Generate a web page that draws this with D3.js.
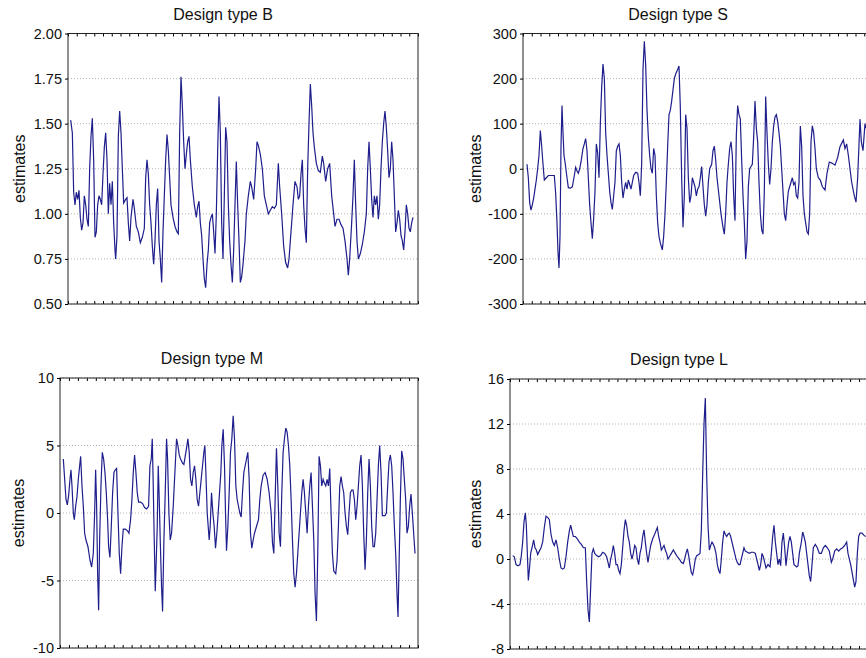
<!DOCTYPE html>
<html>
<head>
<meta charset="utf-8">
<script src="https://cdn.jsdelivr.net/npm/d3@7"></script>
<style>
  body { margin: 0; background: #fff; }
  text { font-family: "Liberation Sans", Arial, sans-serif; }
</style>
</head>
<body>
<div id="chart"></div>
<script>
var tB = [8,13,17,21,25,29,33,37,41,45,49,53,57,61,65,69,73,77,81,85,89,93,97,101,105,109,113,117,121,125,129,133,137,141,143,147,151,155,159,163,167,173,177,181,185,189,195,199,205,211,217,223,229,233,237,241,245,249,253,257,261,265,269,273,277,281,285,289,293,297,301,305,309,315,321,327,331,335,339,343,347,351,355,359,363,367,373,379,385,389,393,397,401,405,409,413,417,421,425,429,433,437,441,445,449,453,457,461,465,469,473,477,481,485,489,493,497,501,505,509,513,517,521,525,531,535,541,547,551,557,563,567,571,577,583,589,595,601,607,613,619,625,631,635,641,647,653,659,663,669,675,681,687,691,695,699,703,707,711,715,719,723,727,731,735,739,745,751,757,763,767,773,779,785,791,797,801,807,813,819,825,831,837,841,845,851,855,859,863,867,871,877,883,889,895,899,903,907,911,915,919,923,927,931,935,939,943,947,951,955,959,963,967,971,975,979,983,987,991,995,999,1003,1007,1011,1015,1019,1023,1027,1031,1035];
var estB = [1.52,1.45,1.12,1.05,1.12,1.08,1.13,0.98,0.91,0.95,1.10,1.05,0.97,0.93,1.25,1.43,1.53,1.30,0.87,0.90,1.05,1.10,1.08,1.05,1.22,1.37,1.45,1.30,1.00,1.17,1.05,1.18,0.95,0.80,0.75,0.88,1.43,1.57,1.45,1.25,1.06,1.08,1.09,0.95,0.85,0.98,1.08,1.03,0.93,0.90,0.84,0.87,0.92,1.20,1.30,1.22,1.05,0.95,0.82,0.72,0.85,1.05,1.14,0.85,0.75,0.62,0.90,1.10,1.30,1.44,1.35,1.20,1.05,0.98,0.93,0.90,0.89,1.45,1.76,1.60,1.40,1.25,1.33,1.40,1.43,1.30,1.15,1.05,0.98,1.04,1.07,0.95,0.88,0.75,0.64,0.59,0.72,0.80,0.95,0.98,1.00,0.90,0.78,1.00,1.35,1.65,1.45,0.95,0.75,1.10,1.48,1.40,1.05,0.85,0.72,0.62,0.80,1.05,1.29,1.05,0.85,0.62,0.65,0.72,0.85,1.00,1.10,1.18,1.15,1.08,1.25,1.40,1.38,1.33,1.25,1.10,1.05,1.00,1.02,1.04,1.03,1.05,1.28,1.15,1.00,0.82,0.73,0.70,0.75,0.90,1.05,1.18,1.15,1.08,1.10,1.22,1.30,1.05,0.92,0.84,1.25,1.50,1.72,1.60,1.45,1.37,1.28,1.24,1.23,1.32,1.28,1.18,1.25,1.28,1.10,1.00,0.93,0.97,0.97,0.94,0.92,0.85,0.75,0.66,0.75,0.95,1.10,1.30,1.05,0.85,0.75,0.78,0.83,0.90,1.00,1.25,1.40,1.25,1.08,0.98,1.10,1.05,1.10,0.97,1.05,1.25,1.40,1.50,1.57,1.48,1.35,1.20,1.25,1.40,1.30,1.10,0.90,0.95,1.02,0.97,0.88,0.85,0.80,0.90,1.05,1.00,0.92,0.90,0.95,0.98];

var tS = [12,16,20,24,28,32,36,40,44,48,52,56,60,64,70,76,82,88,94,98,102,105,108,111,114,117,120,123,127,132,136,142,148,154,158,162,166,170,174,180,184,188,192,196,200,204,208,212,216,220,224,228,232,236,240,244,248,252,256,260,264,268,272,276,280,284,288,292,296,300,304,308,312,316,320,324,328,332,338,344,348,352,356,360,364,368,372,376,380,384,388,392,396,400,404,408,412,418,422,426,430,434,438,442,446,450,454,458,464,468,472,476,480,484,488,492,496,500,504,508,512,516,520,524,528,532,536,540,544,548,552,556,560,566,570,574,578,582,588,594,600,604,608,612,616,620,624,628,632,636,640,644,648,652,656,660,664,668,672,676,680,684,688,692,696,700,704,708,712,716,720,724,728,732,736,740,744,748,752,756,760,764,768,772,776,780,784,788,792,796,800,804,808,812,816,820,824,828,832,836,840,844,848,852,856,860,864,868,872,876,880,886,892,898,906,912,919,928,936,944,951,961,966,971,976,986,994,999,1004,1011,1015,1020,1026,1029];
var estS = [10,-20,-75,-92,-80,-65,-45,-25,0,30,85,50,10,-25,-20,-15,-15,-15,-15,-55,-120,-185,-220,-150,50,140,80,30,10,-20,-42,-43,-40,-15,3,-5,-10,0,15,45,55,67,40,-20,-80,-120,-155,-110,-50,55,35,-20,100,180,232,200,80,30,-10,-50,-75,-90,-60,-30,40,50,55,30,-30,-65,-45,-30,-45,-25,-35,-45,-30,-15,-8,-10,-30,-60,10,220,283,230,130,70,30,0,-10,45,30,-60,-120,-150,-165,-180,-150,-100,-30,50,120,130,150,175,200,210,220,228,135,-20,-130,-60,120,90,-20,-75,-60,-20,-30,-40,-60,-45,-40,-20,5,-40,-80,-105,-80,-30,0,10,40,50,20,-20,-60,-100,-130,-145,-100,-30,10,45,60,30,-60,-115,75,140,120,110,20,-60,-120,-200,-160,-40,0,5,10,70,150,90,60,-30,-100,-135,-145,-50,160,80,10,-35,0,60,95,115,120,105,80,50,0,-50,-100,-115,-80,-50,-40,-30,-20,-35,-30,-60,-65,-30,95,50,-60,-100,-120,-140,-145,-100,60,95,80,45,0,-20,-25,-40,-47,-10,15,12,8,25,49,64,45,55,30,-30,-60,-74,-20,110,60,40,100,90];

var tM = [10,14,18,22,26,30,33,36,40,43,47,51,55,59,62,66,70,74,78,84,90,95,100,104,107,110,113,116,119,123,127,131,135,139,143,146,150,154,158,162,166,170,174,178,182,186,190,196,202,207,212,216,220,224,228,232,236,242,248,254,260,266,270,274,277,280,283,286,289,292,295,298,301,305,308,312,316,320,323,327,331,335,340,345,350,354,358,362,368,372,376,380,384,388,392,396,400,404,408,412,416,420,424,428,432,435,438,442,445,448,451,455,459,463,467,471,475,479,483,486,490,494,497,500,504,508,512,516,520,524,528,532,536,540,544,548,552,556,560,564,568,572,576,580,584,590,596,600,604,610,616,622,628,634,638,642,646,650,654,658,662,666,670,674,678,682,686,690,694,698,702,706,710,714,718,722,726,730,734,738,742,746,750,754,758,762,766,770,774,778,782,786,790,794,798,802,806,810,814,818,822,828,832,836,840,844,848,852,856,860,864,868,872,876,880,884,888,892,896,900,904,908,912,916,920,924,928,932,936,940,944,948,952,956,960,964,968,976,980,984,988,992,996,1000,1004,1008,1012,1015,1018,1022,1026,1030,1034,1038,1042,1046,1050,1054,1058,1062,1066];
var estM = [4.0,2.5,1.0,0.6,1.3,2.5,3.2,2.0,0.0,-0.5,0.5,1.2,2.5,3.5,4.2,2.0,0.5,-1.5,-2.0,-2.5,-3.5,-4.0,-3.0,0.0,3.2,0.5,-4.5,-7.2,-2.0,2.0,4.5,4.0,3.0,1.5,-0.5,-2.5,-3.3,-1.0,1.5,3.0,3.2,3.3,0.0,-3.0,-4.5,-2.5,-1.2,-1.2,-1.3,-1.5,-0.5,1.0,3.0,4.3,3.0,1.5,0.8,0.8,0.7,0.4,0.3,0.5,3.5,4.0,5.5,2.0,-2.0,-5.8,-3.5,-1.0,3.5,1.0,-2.0,-5.5,-7.3,-2.0,1.5,5.5,4.0,0.0,-2.0,-1.5,0.5,3.0,5.5,5.0,4.3,4.0,3.7,3.6,4.2,4.8,5.5,4.5,2.5,2.0,3.0,3.5,2.5,1.0,0.5,1.5,2.5,3.5,4.5,5.0,3.0,0.0,-1.0,-2.0,-1.0,1.5,0.0,-1.0,-2.6,-1.5,0.0,1.5,3.0,5.0,6.2,3.5,0.0,-2.8,-1.0,1.5,4.5,5.5,7.2,5.5,2.0,1.0,0.5,0.0,-0.3,1.5,3.0,3.5,4.0,4.5,2.5,-1.5,-2.6,-2.0,-1.5,-1.0,-0.5,1.0,2.0,2.8,3.0,2.5,1.5,0.0,-2.2,-3.0,1.0,4.8,2.0,-1.5,-2.5,1.5,4.5,5.5,6.3,6.0,5.0,3.5,1.0,-2.0,-4.5,-5.5,-4.5,-3.0,-1.5,0.0,1.5,2.5,1.5,0.0,-1.5,0.5,2.0,3.0,0.5,-2.0,-6.0,-8.0,-3.0,4.2,3.5,2.0,2.5,2.2,2.0,2.5,2.0,3.3,0.0,-3.0,-4.3,-4.5,-3.5,-1.0,2.0,2.7,2.0,1.5,0.0,-1.0,-1.6,0.0,1.5,1.7,1.7,1.0,-0.5,0.5,2.0,3.5,4.3,2.0,-1.5,-4.2,-2.0,1.5,4.0,2.0,-1.0,-2.5,-2.5,-1.5,1.0,3.5,5.0,3.0,-0.2,-0.2,0.0,2.0,3.8,4.3,3.5,1.5,-1.0,-3.0,-6.0,-7.7,-4.0,1.0,4.6,4.0,2.5,1.0,-1.5,-1.0,0.5,1.4,0.0,-1.5,-3.0];

var tL = [8,13,18,24,30,34,38,42,46,49,52,55,58,62,66,71,75,79,83,88,93,98,103,108,113,118,123,128,133,138,143,148,153,158,163,168,173,178,182,186,190,196,202,208,214,220,226,230,234,238,242,246,250,254,260,266,272,278,284,290,294,298,302,306,310,314,318,322,326,330,334,338,342,346,350,354,358,362,366,370,374,378,382,386,390,394,398,402,406,410,414,418,422,428,434,438,442,446,450,454,458,462,466,470,474,478,484,490,496,502,508,514,520,524,528,532,536,540,544,548,552,556,560,566,570,574,578,582,586,590,594,598,602,606,610,614,618,622,626,630,634,638,642,646,650,654,658,662,666,670,674,678,682,686,690,694,698,702,706,712,718,724,730,736,740,744,748,752,756,760,764,768,774,780,784,788,792,796,800,804,808,812,816,820,824,828,832,836,840,844,848,852,856,860,864,868,874,878,882,886,890,894,898,902,906,910,916,922,928,934,940,946,952,958,964,968,974,980,986,992,998,1004,1010,1014,1022,1028,1034,1038,1042,1046,1050,1056,1062,1067];
var estL = [0.3,0.2,-0.5,-0.6,-0.5,0.3,1.5,3.3,4.1,3.0,0.5,-1.9,-1.0,0.5,1.0,1.7,1.0,0.8,0.4,0.7,1.0,1.5,2.8,3.8,3.7,3.5,2.2,1.5,1.2,1.7,1.0,0.0,-0.8,-0.9,-0.8,0.2,1.5,2.5,3.0,2.5,2.0,2.0,1.8,1.5,1.3,1.0,1.0,-2.0,-4.5,-5.6,-2.5,0.5,0.9,0.5,0.3,0.2,0.3,0.6,0.5,0.2,-0.3,-0.8,0.0,0.5,1.2,0.5,-0.5,-0.5,-1.0,-1.3,-0.5,1.0,2.5,3.5,3.0,2.0,1.5,0.5,0.0,0.5,1.2,1.0,0.0,-0.5,0.5,1.0,2.0,2.6,1.5,0.5,-0.3,0.5,1.2,1.8,2.2,2.5,2.8,2.0,1.5,0.8,1.0,1.2,0.8,0.5,0.0,0.2,0.5,0.8,0.5,0.2,0.0,-0.3,-0.4,0.0,0.5,0.9,0.3,-0.5,-1.2,-1.4,-0.8,0.0,0.3,0.4,0.5,2.5,7.5,12.0,14.3,7.5,3.0,0.8,1.2,1.5,1.3,1.0,0.5,-0.5,-1.0,-1.3,0.0,1.5,2.5,2.2,2.0,2.2,2.3,2.0,1.5,1.0,0.5,0.0,-0.3,-0.5,-0.5,0.0,0.5,1.0,0.7,0.6,0.5,0.6,0.6,0.5,0.0,-0.5,-1.0,-0.5,0.5,0.2,-0.3,-0.8,-0.5,-0.7,0.5,2.0,3.0,1.5,0.5,-0.5,0.0,-0.6,1.5,2.3,1.0,-0.6,0.5,1.5,2.0,1.5,0.5,-0.5,-0.6,-0.7,-0.6,0.5,1.5,2.4,2.0,1.5,0.5,-0.5,-1.5,-2.0,-0.5,1.0,1.3,1.0,0.5,0.5,1.0,1.2,1.0,0.7,-0.3,0.0,0.7,0.9,0.7,0.9,1.0,1.2,1.5,0.5,-0.5,-1.5,-2.5,-2.0,0.5,2.0,2.3,2.3,2.1,2.0];

// y-axis tick labels
var ticksB = [0.50, 0.75, 1.00, 1.25, 1.50, 1.75, 2.00];
var ticksS = [-300, -200, -100, 0, 100, 200, 300];
var ticksM = [-10, -5, 0, 5, 10];
var ticksL = [-8, -4, 0, 4, 8, 12, 16];

var titles = ["Design type B", "Design type S", "Design type M", "Design type L"];

var svg = d3.select("#chart")
    .append("svg")
    .attr("width", 866)
    .attr("height", 658);

var fmt2 = function(d) { return d.toFixed(2); };
var fmtInt = function(d) { return String(d); };

var panels = [
    { title: titles[0], t: tB, est: estB, span: 1050, ticks: ticksB, fmt: fmt2,
      left: 68, top: 33.5, w: 350, h: 270.5, titleX: 223, titleY: 20, labelX: 19 },
    { title: titles[1], t: tS, est: estS, span: 1050, ticks: ticksS, fmt: fmtInt,
      left: 523, top: 33.5, w: 350, h: 270.5, titleX: 678, titleY: 20, labelX: 475 },
    { title: titles[2], t: tM, est: estM, span: 1075, ticks: ticksM, fmt: fmtInt,
      left: 60, top: 378, w: 358, h: 270, titleX: 212, titleY: 364, labelX: 18 },
    { title: titles[3], t: tL, est: estL, span: 1074, ticks: ticksL, fmt: fmtInt,
      left: 510, top: 379, w: 358, h: 270, titleX: 679, titleY: 365, labelX: 475 }
];

function drawPanel(p) {
    var x = d3.scaleLinear().domain([0, p.span]).range([0, p.w]);
    var y = d3.scaleLinear().domain(d3.extent(p.ticks)).range([p.h, 0]);

    var g = svg.append("g")
        .attr("transform", "translate(" + p.left + "," + p.top + ")");

    // dotted grid
    g.selectAll(".grid")
        .data(p.ticks)
        .enter().append("line")
        .attr("class", "grid")
        .attr("x1", 0).attr("x2", p.w)
        .attr("y1", function(d) { return y(d); })
        .attr("y2", function(d) { return y(d); })
        .attr("stroke", "#b4b4b4")
        .attr("stroke-dasharray", "1,2");

    // the series
    g.append("path")
        .datum(d3.zip(p.t, p.est))
        .attr("fill", "none")
        .attr("stroke", "#1e1e8c")
        .attr("stroke-width", 1.2)
        .attr("d", d3.line()
            .x(function(d) { return x(d[0]); })
            .y(function(d) { return y(d[1]); }));

    // small inward ticks on top and bottom edges
    var minor = d3.range(0, p.span + 1, p.span / 40);
    g.append("g")
        .call(d3.axisBottom(x).tickValues(minor).tickSize(3).tickFormat(""))
        .call(function(a) { a.select(".domain").remove(); });
    g.append("g")
        .attr("transform", "translate(0," + p.h + ")")
        .call(d3.axisTop(x).tickValues(minor).tickSize(3).tickFormat(""))
        .call(function(a) { a.select(".domain").remove(); });

    // frame
    g.append("rect")
        .attr("width", p.w)
        .attr("height", p.h)
        .attr("fill", "none")
        .attr("stroke", "#222");

    // y axis
    var yAxis = g.append("g")
        .call(d3.axisLeft(y).tickValues(p.ticks).tickSize(3).tickPadding(3).tickFormat(p.fmt));
    yAxis.select(".domain").remove();
    yAxis.selectAll("text")
        .attr("font-family", "Liberation Sans, Arial, sans-serif")
        .attr("font-size", 14.5)
        .attr("fill", "#111");

    svg.append("text")
        .attr("x", p.titleX)
        .attr("y", p.titleY)
        .attr("text-anchor", "middle")
        .attr("font-size", 16)
        .attr("fill", "#111")
        .text(p.title);

    svg.append("text")
        .attr("transform", "translate(" + p.labelX + "," + (p.top + p.h / 2) + ")rotate(-90)")
        .attr("text-anchor", "middle")
        .attr("dy", "0.35em")
        .attr("font-size", 16)
        .attr("fill", "#111")
        .text("estimates");
}

panels.forEach(drawPanel);
</script>
</body>
</html>
